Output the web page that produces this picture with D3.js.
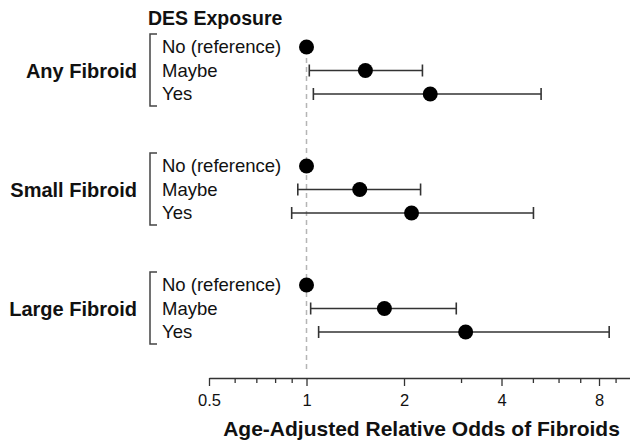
<!DOCTYPE html>
<html>
<head>
<meta charset="utf-8">
<script src="https://cdn.jsdelivr.net/npm/d3@7"></script>
<style>
  html, body { margin: 0; padding: 0; background: #fff; }
  svg { display: block; font-family: "Liberation Sans", Arial, Helvetica, sans-serif; }
</style>
</head>
<body>
<svg id="chart" width="630" height="444"></svg>
<script>
const groups = ["Any Fibroid", "Small Fibroid", "Large Fibroid"];
const levels = ["No (reference)", "Maybe", "Yes"];
// odds ratio estimates per group (rows: levels)
const estimates = [
  [1, 1.52, 2.41],
  [1, 1.46, 2.11],
  [1, 1.74, 3.10]
];
const lowerCI = [
  [null, 1.02, 1.05],
  [null, 0.94, 0.90],
  [null, 1.03, 1.09]
];
const upperCI = [
  [null, 2.28, 5.30],
  [null, 2.25, 5.02],
  [null, 2.90, 8.60]
];
const majorTicks = [0.5, 1, 2, 4, 8];
const minorTicks = [0.6, 0.7, 0.8, 0.9, 3, 5, 6, 7, 9];
const legendTitle = "DES Exposure";
const xTitle = "Age-Adjusted Relative Odds of Fibroids";

const svg = d3.select("#chart");

const x = d3.scaleLog().domain([0.5, 10]).range([209, 630.4]);
const gy = d3.scaleLinear().domain([0, groups.length - 1]).range([70.5, 308.5]);
const ry = d3.scaleLinear().domain([0, levels.length - 1]).range([-23.5, 23.5]);
const yPos = (g, r) => gy(g) + ry(r);
const axisY = 378;

// reference dashed line at 1
svg.append("line")
  .attr("x1", x(1)).attr("x2", x(1))
  .attr("y1", 40).attr("y2", axisY - 6)
  .attr("stroke", "#b5b5b5").attr("stroke-width", 1.5)
  .attr("stroke-dasharray", "5,4");

// legend title
svg.append("text")
  .attr("x", 148).attr("y", 25)
  .attr("font-size", 19.5).attr("font-weight", "bold")
  .attr("fill", "#111")
  .text(legendTitle);

groups.forEach((gName, g) => {
  const top = yPos(g, 0) - 13, bottom = yPos(g, levels.length - 1) + 12;
  // group label
  svg.append("text")
    .attr("x", 137).attr("y", yPos(g, 1))
    .attr("dy", "0.35em")
    .attr("text-anchor", "end")
    .attr("font-size", 20).attr("font-weight", "bold")
    .attr("fill", "#111")
    .text(gName);
  // bracket
  svg.append("path")
    .attr("d", `M157,${top}H150V${bottom}H157`)
    .attr("fill", "none").attr("stroke", "#444").attr("stroke-width", 1.5);
  // level labels
  levels.forEach((lv, r) => {
    svg.append("text")
      .attr("x", 162).attr("y", yPos(g, r))
      .attr("dy", "0.35em")
      .attr("font-size", 18.5)
      .attr("fill", "#111")
      .text(lv);
  });
  // error bars
  levels.forEach((lv, r) => {
    const lo = lowerCI[g][r], hi = upperCI[g][r];
    if (lo == null || hi == null) return;
    const yy = yPos(g, r);
    const eb = svg.append("g").attr("stroke", "#333").attr("stroke-width", 1.6);
    eb.append("line").attr("x1", x(lo)).attr("x2", x(hi)).attr("y1", yy).attr("y2", yy);
    eb.append("line").attr("x1", x(lo)).attr("x2", x(lo)).attr("y1", yy - 6).attr("y2", yy + 6);
    eb.append("line").attr("x1", x(hi)).attr("x2", x(hi)).attr("y1", yy - 6).attr("y2", yy + 6);
  });
  // points
  levels.forEach((lv, r) => {
    svg.append("circle")
      .attr("cx", x(estimates[g][r])).attr("cy", yPos(g, r))
      .attr("r", 7.5).attr("fill", "#000");
  });
});

// minor ticks axis
const minorAxis = d3.axisBottom(x).tickValues(minorTicks).tickSize(5).tickSizeOuter(0).tickFormat("");
const gMinor = svg.append("g").attr("transform", `translate(0,${axisY})`).call(minorAxis);
gMinor.select(".domain").remove();

// major axis
const majorAxis = d3.axisBottom(x).tickValues(majorTicks).tickSize(8).tickSizeOuter(0)
  .tickPadding(8).tickFormat(d => String(d));
const gMajor = svg.append("g").attr("transform", `translate(0,${axisY})`).call(majorAxis);
gMajor.selectAll("text").attr("font-size", 16.5).attr("fill", "#111")
  .attr("font-family", "'Liberation Sans', Arial, Helvetica, sans-serif");

svg.selectAll(".tick line, .domain").attr("stroke", "#333").attr("stroke-width", 1.3);

// x title
svg.append("text")
  .attr("x", 421.5).attr("y", 436)
  .attr("text-anchor", "middle")
  .attr("font-size", 21).attr("font-weight", "bold")
  .attr("fill", "#111")
  .text(xTitle);
</script>
</body>
</html>
